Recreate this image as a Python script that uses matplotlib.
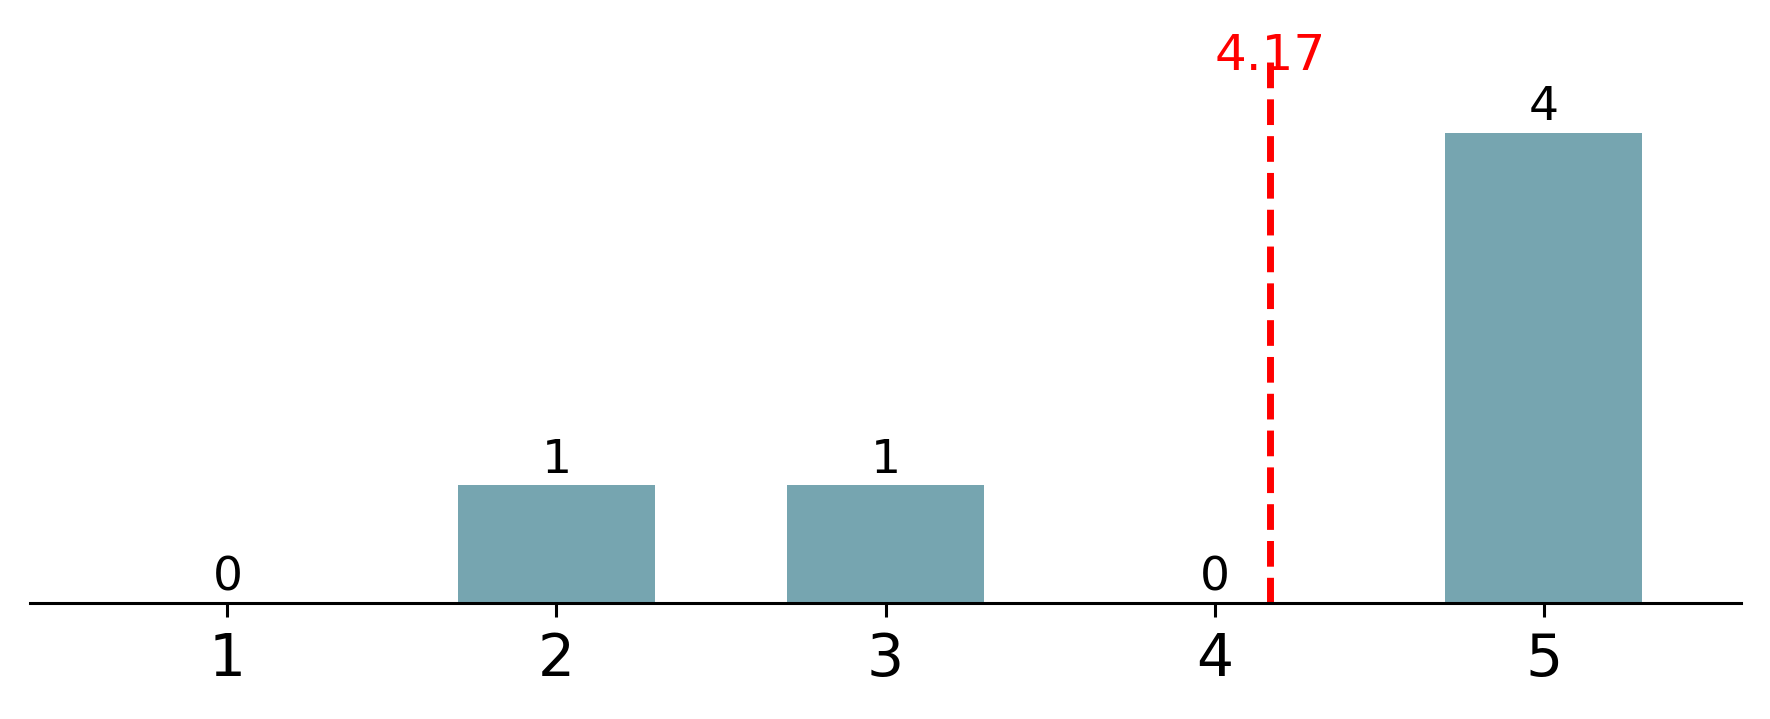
import matplotlib
matplotlib.use("Agg")
import matplotlib.pyplot as plt

# dados do grafico
categorias = [1, 2, 3, 4, 5]
contagens = [0, 1, 1, 0, 4]
media = 4.17

fig = plt.figure(figsize=(8.85, 3.595), dpi=200)
ax = fig.add_axes([30 / 1770, 1 - 603 / 719, (1741 - 30) / 1770, (603 - 62) / 719])

barras = ax.bar(categorias, contagens, width=0.6, color="#76a5b0")
ax.bar_label(barras, labels=[str(c) for c in contagens], padding=1, fontsize=17)

# linha da media
ax.axvline(media, color="red", linestyle="--", linewidth=2.5)
ax.text(media, 4.65, f"{media:.2f}", color="red", ha="center", va="center", fontsize=18)

ax.set_xlim(0.4, 5.6)
ax.set_ylim(0, 4.6)
ax.set_xticks(categorias)
ax.set_xticklabels([str(c) for c in categorias], fontsize=21)
ax.set_yticks([])
for s in ["top", "right", "left"]:
    ax.spines[s].set_visible(False)
ax.spines["bottom"].set_linewidth(1.1)
ax.tick_params(axis="x", length=5, width=1.1, pad=5)

fig.savefig("out.png", dpi=200)
